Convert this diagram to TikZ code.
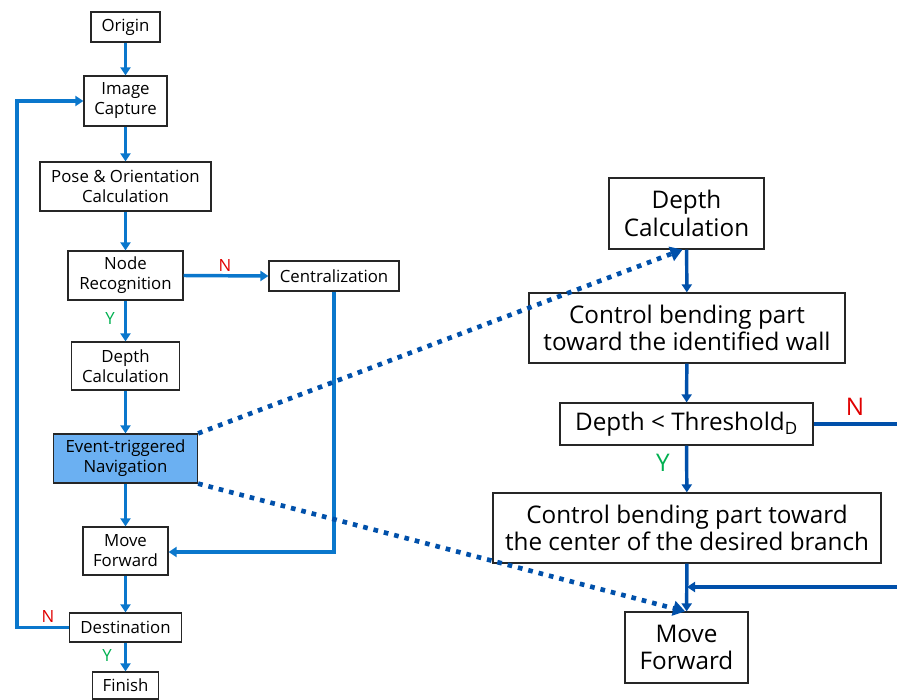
\documentclass[tikz,border=0pt]{standalone}
\usepackage{fontspec}
\setmainfont{Open Sans}
\usetikzlibrary{arrows.meta}
\definecolor{lblue}{HTML}{0A77CC}
\definecolor{dblue}{HTML}{0050AA}
\definecolor{evfill}{HTML}{6BB0F2}
\definecolor{ngreen}{HTML}{00B050}
\definecolor{nred}{HTML}{E00000}
\begin{document}
\begin{tikzpicture}[x=0.75pt,y=-0.75pt,
  box/.style={draw=black!85, line width=0.9pt, align=center, inner sep=0pt, font=\fontsize{12.6}{15}\selectfont},
  rbox/.style={box, font=\fontsize{18.2}{20.5}\selectfont},
  larr/.style={draw=lblue, line width=2.6pt, -{Triangle[length=6pt,width=7.5pt]}},
  rarr/.style={draw=dblue, line width=2.6pt, -{Triangle[length=6pt,width=7.5pt]}},
  rline/.style={draw=dblue, line width=2.6pt},
  dotarr/.style={draw=dblue, line width=3.5pt, dash pattern=on 3.5pt off 4.5pt, -{Triangle[length=9pt,width=11pt]}},
  lbl/.style={inner sep=0pt, font=\fontsize{12.6}{14}\selectfont},
  rlbl/.style={inner sep=0pt, font=\fontsize{18.2}{20}\selectfont}
]
\useasboundingbox (0,0) rectangle (897,700);
% left column
\node[box, minimum width=51.75pt, minimum height=22.5pt] (org) at (125.5,27) {Origin};
\node[box, minimum width=62.25pt, minimum height=37.5pt] (img) at (125.5,101) {Image\\Capture};
\node[box, minimum width=128.25pt, minimum height=36.75pt] (pose) at (125.5,186.5) {Pose \& Orientation\\Calculation};
\node[box, minimum width=86.25pt, minimum height=36.75pt] (nr) at (125.5,275.5) {Node\\Recognition};
\node[box, minimum width=97.5pt, minimum height=22.5pt] (cen) at (334,276) {Centralization};
\node[box, minimum width=81pt, minimum height=36pt] (dl) at (125.5,366) {Depth\\Calculation};
\node[box, fill=evfill, minimum width=108pt, minimum height=36.75pt] (ev) at (125.5,458.5) {Event-triggered\\Navigation};
\node[box, minimum width=63.75pt, minimum height=36pt] (mfl) at (125.5,551) {Move\\Forward};
\node[box, minimum width=84pt, minimum height=21.75pt] (dest) at (125.5,627.5) {Destination};
\node[box, minimum width=49.5pt, minimum height=20.25pt] (fin) at (125.5,685.5) {Finish};
% right column
\node[rbox, minimum width=116.25pt, minimum height=53.25pt] (dr) at (686.5,213.5) {Depth\\Calculation};
\node[rbox, minimum width=237pt, minimum height=52.5pt] (wall) at (687,328) {Control bending part\\toward the identified wall};
\node[rbox, minimum width=189.75pt, minimum height=31.5pt] (thr) at (686.5,424) {Depth < Threshold\textsubscript{D}};
\node[rbox, minimum width=291pt, minimum height=52.5pt] (ctr) at (687,528) {Control bending part toward\\the center of the desired branch};
\node[rbox, minimum width=92.25pt, minimum height=53.25pt] (mfr) at (686.5,647.5) {Move\\Forward};
% coordinates
\coordinate (lp) at (17,627.5);
\coordinate (nend) at (897,424);
\coordinate (rin) at (897,587);
% left connectors
\draw[larr] (org) -- (img);
\draw[larr] (img) -- (pose);
\draw[larr] (pose) -- (nr);
\draw[larr] (nr) -- (dl);
\draw[larr] (dl) -- (ev);
\draw[larr] (ev) -- (mfl);
\draw[larr] (mfl) -- (dest);
\draw[larr] (dest) -- (fin);
\draw[larr] (nr.east) -- (cen.west);
\draw[larr] (cen.south) |- ([yshift=-0.75pt]mfl.east);
\draw[larr] (dest.west) -- (lp) |- (img.west);
% labels
\node[lbl, text=nred] at (225,265) {N};
\node[lbl, text=ngreen] at (110,318) {Y};
\node[lbl, text=nred] at (48,616) {N};
\node[lbl, text=ngreen] at (107,655) {Y};
% right connectors
\draw[rarr] (dr) -- (wall);
\draw[rarr] (wall) -- (thr);
\draw[rarr] (thr) -- (ctr);
\draw[rarr] (ctr) -- (mfr);
\draw[rline] (thr.east) -- (nend);
\draw[rarr] (rin) -- (ctr.south |- rin);
\node[rlbl, text=nred] at (855,407) {N};
\node[rlbl, text=ngreen] at (663,463) {Y};
% dotted
\draw[dotarr] (ev.north east) -- ([xshift=-3pt]dr.south);
\draw[dotarr] (ev.south east) -- ([xshift=-1pt]mfr.north);
\end{tikzpicture}
\end{document}
